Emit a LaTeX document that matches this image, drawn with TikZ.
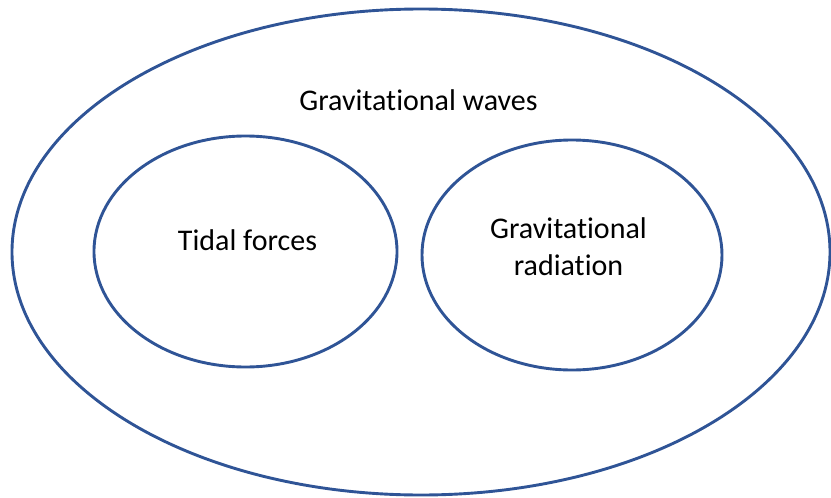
\documentclass[tikz,border=0pt]{standalone}
\usepackage{fontspec}
\setmainfont[Ligatures=NoCommon]{Carlito}
\usetikzlibrary{shapes.geometric}
\definecolor{ringblue}{RGB}{47,84,150}
\tikzset{
  ring/.style={ellipse, draw=ringblue, line width=2.9pt, inner sep=0pt},
  lbl/.style={font=\fontsize{30}{40}\selectfont, text=black, align=center, inner sep=0pt}
}
\begin{document}
\begin{tikzpicture}[x=1pt,y=-1pt]
\useasboundingbox (0,0) rectangle (831,498);
\node[ring, minimum width=818pt, minimum height=486pt] (outer) at (421,252) {};
\node[ring, minimum width=303pt, minimum height=231pt] (left) at (245.5,251.5) {};
\node[ring, minimum width=300pt, minimum height=230pt] (right) at (572,255) {};
\node[lbl, anchor=base] (gw) at (418.5,110.5) {Gravitational waves};
\node[lbl, anchor=base] (tf) at (247.5,250) {Tidal forces};
\node[lbl, anchor=base] (gr1) at (568.5,238) {Gravitational};
\node[lbl, anchor=base] (gr2) at (568.5,275) {radiation};
\end{tikzpicture}
\end{document}
